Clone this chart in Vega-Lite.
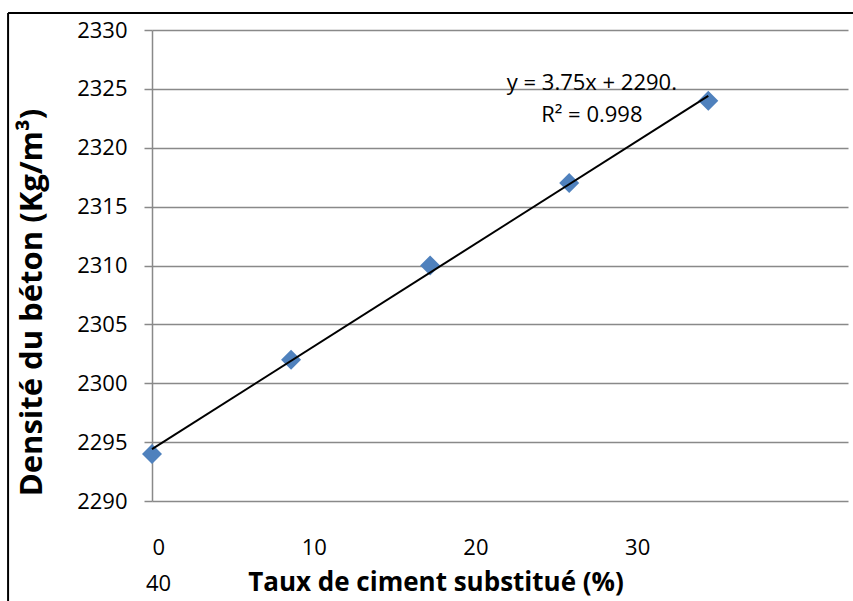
{
  "$schema": "https://vega.github.io/schema/vega-lite/v6.json",
  "width": 696,
  "height": 471,
  "autosize": {"type": "none"},
  "padding": {"left": 152, "top": 30, "right": 5, "bottom": 100},
  "background": "white",
  "config": {"view": {"stroke": null}, "font": "Open Sans"},
  "datasets": {
    "points": [
      {"taux": 0, "densite": 2294},
      {"taux": 8.6, "densite": 2302},
      {"taux": 17.2, "densite": 2310},
      {"taux": 25.8, "densite": 2317},
      {"taux": 34.4, "densite": 2324}
    ],
    "trend": [
      {"taux": 0, "densite": 2294.4},
      {"taux": 34.4, "densite": 2324.4}
    ],
    "notes": [
      {"taux": 27.2, "densite": 2324.9, "label": "y = 3.75x + 2290."},
      {"taux": 27.2, "densite": 2322.2, "label": "R² = 0.998"}
    ],
    "extra": [
      {"taux": 0, "densite": 2290, "label": "40"}
    ]
  },
  "layer": [
    {
      "data": {"name": "points"},
      "mark": {"type": "point", "shape": "diamond", "filled": true, "size": 400, "color": "#4F81BD", "opacity": 1, "strokeWidth": 0},
      "encoding": {
        "x": {
          "field": "taux", "type": "quantitative",
          "scale": {"domain": [0, 43.04], "nice": false, "zero": false},
          "axis": {
            "values": [0, 10, 20, 30],
            "grid": false, "domain": false, "ticks": false,
            "labelFontSize": 22, "labelColor": "#000000", "labelPadding": 36,
            "title": "Taux de ciment substitué (%)",
            "titleFontSize": 26, "titleFontWeight": "bold", "titleColor": "#000000",
            "titleX": 283.5, "titleY": 89, "titleBaseline": "alphabetic", "titleAlign": "center"
          }
        },
        "y": {
          "field": "densite", "type": "quantitative",
          "scale": {"domain": [2290, 2330], "nice": false, "zero": false},
          "axis": {
            "values": [2290, 2295, 2300, 2305, 2310, 2315, 2320, 2325, 2330],
            "format": "d",
            "grid": true, "gridColor": "#898989", "gridWidth": 1.5, "gridOpacity": 1,
            "domainColor": "#898989", "domainWidth": 1.5,
            "tickColor": "#898989", "tickSize": 8, "tickWidth": 1.5,
            "labelFontSize": 22, "labelColor": "#000000", "labelPadding": 17,
            "title": "Densité du béton (Kg/m³)",
            "titleFontSize": 31, "titleFontWeight": "bold", "titleColor": "#000000",
            "titleX": -120, "titleY": 272, "titleBaseline": "middle", "titleAlign": "center", "titleAngle": -90
          }
        }
      }
    },
    {
      "data": {"name": "trend"},
      "mark": {"type": "line", "color": "#000000", "strokeWidth": 2},
      "encoding": {
        "x": {"field": "taux", "type": "quantitative"},
        "y": {"field": "densite", "type": "quantitative"}
      }
    },
    {
      "data": {"name": "notes"},
      "mark": {"type": "text", "fontSize": 22, "align": "center", "baseline": "alphabetic", "color": "#000000"},
      "encoding": {
        "x": {"field": "taux", "type": "quantitative"},
        "y": {"field": "densite", "type": "quantitative"},
        "text": {"field": "label"}
      }
    },
    {
      "data": {"name": "extra"},
      "mark": {"type": "text", "fontSize": 22, "align": "left", "baseline": "alphabetic", "color": "#000000", "dx": -6, "dy": 90},
      "encoding": {
        "x": {"field": "taux", "type": "quantitative"},
        "y": {"field": "densite", "type": "quantitative"},
        "text": {"field": "label"}
      }
    },
    {
      "data": {"values": [{"x0": -8.9, "x1": 44, "y0": 2331.44}]},
      "mark": {"type": "rule", "color": "#000000", "strokeWidth": 2},
      "encoding": {
        "x": {"field": "x0", "type": "quantitative"},
        "x2": {"field": "x1"},
        "y": {"field": "y0", "type": "quantitative"}
      }
    },
    {
      "data": {"values": [{"x0": -8.9, "y0": 2331.44, "y1": 2280}]},
      "mark": {"type": "rule", "color": "#000000", "strokeWidth": 2},
      "encoding": {
        "x": {"field": "x0", "type": "quantitative"},
        "y": {"field": "y0", "type": "quantitative"},
        "y2": {"field": "y1"}
      }
    }
  ]
}
